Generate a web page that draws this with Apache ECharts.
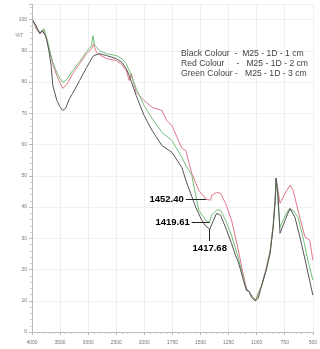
<!DOCTYPE html>
<html>
<head>
<meta charset="utf-8">
<script src="https://cdn.jsdelivr.net/npm/echarts@6/dist/echarts.min.js"></script>
<style>
  html, body { margin: 0; padding: 0; background: #fff; }
  #chart { width: 320px; height: 349px; }
</style>
</head>
<body>
<div id="chart"></div>
<script>
// FTIR transmittance spectra, wavenumber (cm-1) vs %T
const tickLabels = ['4000', '3500', '3000', '2500', '2000', '1750', '1500', '1250', '1000', '750', '500'];

const blackWn = [3982, 3929, 3859, 3820, 3788, 3760, 3735, 3700, 3660, 3629, 3558, 3505, 3452, 3400, 3382, 3330, 3276, 3152, 3028, 2975, 2940, 2922, 2900, 2870, 2799, 2675, 2498, 2400, 2322, 2269, 2145, 2004, 1931, 1843, 1754, 1666, 1631, 1542, 1489, 1454, 1417.68, 1401, 1357, 1322, 1277, 1224, 1189, 1163, 1118, 1092, 1065, 1048, 1012, 986, 959, 915, 880, 853, 835, 827, 810, 792, 747, 703, 659, 615, 562, 500];
const blackT = [99.7, 98.1, 95.5, 96.5, 96.8, 94.9, 93.3, 90.1, 85.3, 78.9, 74.1, 72.2, 70.9, 71.6, 72.5, 74.8, 76.4, 80.5, 84.7, 86.3, 87.5, 86.9, 88.5, 87.9, 89.1, 88.5, 87.5, 86.3, 84.3, 82.1, 75.7, 69.3, 64.5, 59.7, 57.5, 52.7, 48.6, 39.9, 35.8, 33.9, 32.9, 33.5, 38.0, 37.4, 33.5, 28.4, 24.6, 22.4, 16.6, 13.4, 12.8, 11.2, 9.9, 10.9, 14.4, 19.8, 25.2, 33.5, 42.2, 49.2, 43.8, 31.6, 35.8, 39.6, 36.7, 30.4, 22.0, 11.8];

const redWn = [3982, 3929, 3859, 3788, 3735, 3682, 3629, 3558, 3505, 3452, 3382, 3276, 3152, 3028, 2940, 2900, 2887, 2850, 2799, 2675, 2498, 2400, 2322, 2269, 2230, 2145, 2004, 1931, 1843, 1800, 1754, 1666, 1631, 1578, 1516, 1452.40, 1410, 1401, 1357, 1322, 1277, 1224, 1163, 1118, 1092, 1065, 1012, 959, 915, 880, 853, 835, 827, 792, 747, 703, 676, 632, 570, 527, 500];
const redT = [99.7, 97.1, 95.5, 96.5, 93.3, 89.5, 85.6, 82.1, 79.9, 78.0, 79.2, 82.7, 85.9, 89.1, 90.7, 92.3, 91.1, 89.5, 88.8, 87.5, 86.9, 85.6, 83.7, 80.5, 82.7, 76.7, 74.1, 71.9, 70.9, 67.7, 66.1, 58.8, 58.1, 50.8, 45.4, 42.5, 42.2, 43.8, 44.7, 44.4, 41.2, 35.8, 26.2, 18.2, 14.1, 12.8, 10.2, 14.7, 20.4, 26.2, 34.2, 42.8, 49.2, 41.2, 44.4, 47.0, 45.4, 39.0, 30.4, 29.4, 23.0];

const greenWn = [3982, 3929, 3859, 3788, 3735, 3682, 3629, 3558, 3505, 3452, 3382, 3276, 3152, 3028, 2940, 2915, 2887, 2850, 2799, 2675, 2498, 2400, 2322, 2269, 2145, 2004, 1931, 1843, 1754, 1666, 1631, 1578, 1516, 1454, 1419.61, 1401, 1357, 1322, 1277, 1224, 1163, 1118, 1092, 1065, 1012, 959, 915, 880, 853, 835, 827, 792, 765, 721, 676, 632, 588, 544, 500];
const greenT = [99.7, 97.8, 95.8, 97.1, 93.9, 90.1, 86.3, 83.1, 81.2, 79.9, 80.8, 83.7, 86.6, 89.8, 91.7, 94.9, 92.0, 91.1, 90.1, 89.1, 88.5, 87.5, 85.9, 83.7, 78.0, 72.5, 68.4, 63.9, 61.3, 55.9, 53.4, 50.2, 39.0, 35.8, 35.1, 37.4, 39.0, 39.0, 35.8, 31.0, 23.6, 17.3, 13.4, 12.8, 9.9, 14.4, 19.8, 25.6, 33.9, 42.2, 49.2, 33.5, 35.8, 39.0, 39.0, 36.7, 30.4, 23.0, 16.6];

const legendLines = [
  'Black Colour  -  M25 - 1D - 1 cm',
  'Red Colour     -   M25 - 1D - 2 cm',
  'Green Colour -   M25 - 1D - 3 cm'
];

// Peak annotations: [wavenumber, %T at that wavenumber, where the leader starts]
const peakRed = [1452.40, 42.5, 1631];
const peakGreen = [1419.61, 35.1, 1578];
const peakBlack = [1417.68, 32.9, 29.1];

// Instrument-style abscissa: half scale above 2000 cm-1, full scale below
function toAxis(wn) {
  return wn >= 2000 ? (4000 - wn) / 500 : 4 + (2000 - wn) / 250;
}
function pairs(wn, t) {
  return wn.map((w, i) => [toAxis(w), t[i]]);
}

const labelStyle = { color: '#000', fontWeight: 'bold', fontSize: 9.5, fontFamily: 'Liberation Sans, Arial, sans-serif' };

const chart = echarts.init(document.getElementById('chart'), null, { renderer: 'canvas' });
chart.setOption({
  animation: false,
  backgroundColor: '#fff',
  grid: { left: 32, right: 5, top: 4, bottom: 17 },
  xAxis: {
    type: 'value', min: 0, max: 10, interval: 1,
    axisLine: { lineStyle: { color: '#bbb', width: 1 } },
    axisTick: { show: true, length: 3, lineStyle: { color: '#bbb' } },
    minorTick: { show: true, splitNumber: 5, length: 2, lineStyle: { color: '#ccc' } },
    splitLine: { show: true, lineStyle: { color: '#f0f0f0', width: 1 } },
    axisLabel: {
      margin: 8, fontSize: 5, color: '#777', fontFamily: 'Liberation Sans, Arial, sans-serif',
      formatter: v => tickLabels[Math.round(v)] || ''
    }
  },
  yAxis: [{
    type: 'value', min: 0, max: 105, interval: 10,
    axisLine: { show: true, lineStyle: { color: '#bbb', width: 1 } },
    axisTick: { show: true, length: 3, lineStyle: { color: '#bbb' } },
    minorTick: { show: true, splitNumber: 5, length: 2, lineStyle: { color: '#ccc' } },
    splitLine: { show: true, lineStyle: { color: '#f0f0f0', width: 1 } },
    axisLabel: {
      margin: 5, fontSize: 5, color: '#777', fontFamily: 'Liberation Sans, Arial, sans-serif',
      formatter: v => (v <= 100 ? String(v) : '')
    }
  }, {
    type: 'value', min: 0, max: 105, interval: 5, position: 'left',
    axisLine: { show: false }, axisTick: { show: false }, splitLine: { show: false },
    axisLabel: {
      margin: 9, fontSize: 5, color: '#777', fontFamily: 'Liberation Sans, Arial, sans-serif',
      formatter: v => (v === 95 ? '%T' : '')
    }
  }],
  graphic: legendLines.map((t, i) => ({
    type: 'text', left: 181, top: 49 + i * 10, silent: true, z: 10,
    style: { text: t, fill: '#444', fontSize: 8.6, fontFamily: 'Liberation Sans, Arial, sans-serif' }
  })),
  series: [{
    name: 'M25 - 1D - 2 cm', type: 'line', data: pairs(redWn, redT),
    showSymbol: false, lineStyle: { color: '#e0788a', width: 1 }, z: 2,
    markLine: {
      silent: true, symbol: 'none', animation: false,
      lineStyle: { color: '#222', width: 1, type: 'solid' },
      label: Object.assign({ position: 'start', distance: 2, formatter: peakRed[0].toFixed(2) }, labelStyle),
      data: [[{ coord: [toAxis(peakRed[2]), peakRed[1]] }, { coord: [toAxis(peakRed[0]), peakRed[1]] }]]
    }
  }, {
    name: 'M25 - 1D - 3 cm', type: 'line', data: pairs(greenWn, greenT),
    showSymbol: false, lineStyle: { color: '#74c07a', width: 1 }, z: 3,
    markLine: {
      silent: true, symbol: 'none', animation: false,
      lineStyle: { color: '#222', width: 1, type: 'solid' },
      label: Object.assign({ position: 'start', distance: 2, formatter: peakGreen[0].toFixed(2) }, labelStyle),
      data: [[{ coord: [toAxis(peakGreen[2]), peakGreen[1]] }, { coord: [toAxis(peakGreen[0]), peakGreen[1]] }]]
    }
  }, {
    name: 'M25 - 1D - 1 cm', type: 'line', data: pairs(blackWn, blackT),
    showSymbol: false, lineStyle: { color: '#555', width: 1 }, z: 4,
    markLine: {
      silent: true, symbol: 'none', animation: false,
      lineStyle: { color: '#222', width: 1, type: 'solid' },
      label: Object.assign({ position: 'end', distance: 2, formatter: peakBlack[0].toFixed(2) }, labelStyle),
      data: [[{ coord: [toAxis(peakBlack[0]), peakBlack[1]] }, { coord: [toAxis(peakBlack[0]), peakBlack[2]] }]]
    }
  }]
});
</script>
</body>
</html>
